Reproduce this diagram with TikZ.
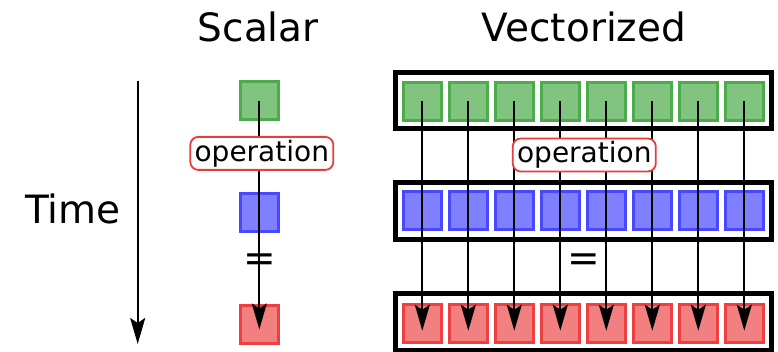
\documentclass[tikz,border=0pt]{standalone}
\usepackage{fontspec}
\setmainfont{DejaVu Sans}
\usetikzlibrary{arrows.meta}
\definecolor{gfill}{RGB}{128,196,128}
\definecolor{gline}{RGB}{76,172,76}
\definecolor{bfill}{RGB}{128,128,255}
\definecolor{bline}{RGB}{72,72,255}
\definecolor{rfill}{RGB}{242,128,128}
\definecolor{rline}{RGB}{238,64,64}
\definecolor{opline}{RGB}{232,60,60}
\begin{document}
\begin{tikzpicture}[x=1pt,y=-1pt,
  cell/.style={draw, line width=3pt, minimum size=37.5pt, inner sep=0pt},
  gcell/.style={cell, draw=gline, fill=gfill},
  bcell/.style={cell, draw=bline, fill=bfill},
  rcell/.style={cell, draw=rline, fill=rfill},
  frame/.style={draw=black, line width=5pt, fill=white, minimum width=376.5pt, minimum height=56.5pt, inner sep=0pt},
  oplabel/.style={draw=opline, line width=1.8pt, fill=white, rounded corners=8pt, minimum width=143pt, minimum height=33pt, inner sep=0pt, font=\fontsize{28}{34}\selectfont},
  title/.style={font=\fontsize{39}{47}\selectfont, anchor=base},
  eqsign/.style={font=\fontsize{39}{47}\selectfont, inner sep=0pt},
  arr/.style={line width=1.9pt, -{Stealth[length=26pt,width=15pt,inset=5pt]}}
]
\useasboundingbox[fill=white] (0,0) rectangle (778,352);

% titles
\node[title] (tscalar) at (258.3,41.7) {Scalar};
\node[title] (tvector) at (584,41.7) {Vectorized};
\node[title] (ttime) at (72.8,223.3) {Time};

% time arrow
\coordinate (t0) at (137.7,80.7);
\coordinate (t1) at (137.7,344);
\draw[arr] (t0) -- (t1);

% scalar column
\node[gcell] (gs) at (259.3,100.7) {};
\node[bcell] (bs) at (259.3,212.7) {};
\node[rcell] (rs) at (259.3,324.5) {};
\node[eqsign] (eqs) at (259.5,263) {=};
\draw[arr] (gs.center) -- ([yshift=-5pt]rs.center);
\node[oplabel] (ops) at (261.8,153.4) {operation};

% vectorized frames
\node[frame] (fg) at (583.3,100.7) {};
\node[frame] (fb) at (583.3,211) {};
\node[frame] (fr) at (583.3,322) {};

\foreach \i in {1,...,8}{
  \node[gcell] (g\i) at ({376.3+46*\i},101.5) {};
  \node[bcell] (b\i) at ({376.3+46*\i},210.7) {};
  \node[rcell] (r\i) at ({376.3+46*\i},323.7) {};
}
\foreach \i in {1,...,8}{
  \draw[arr] (g\i.center) -- ([yshift=-7pt]r\i.center);
}
\node[eqsign] (eqv) at (583.7,263) {=};
\node[oplabel] (opv) at (584.3,155) {operation};
\end{tikzpicture}
\end{document}
